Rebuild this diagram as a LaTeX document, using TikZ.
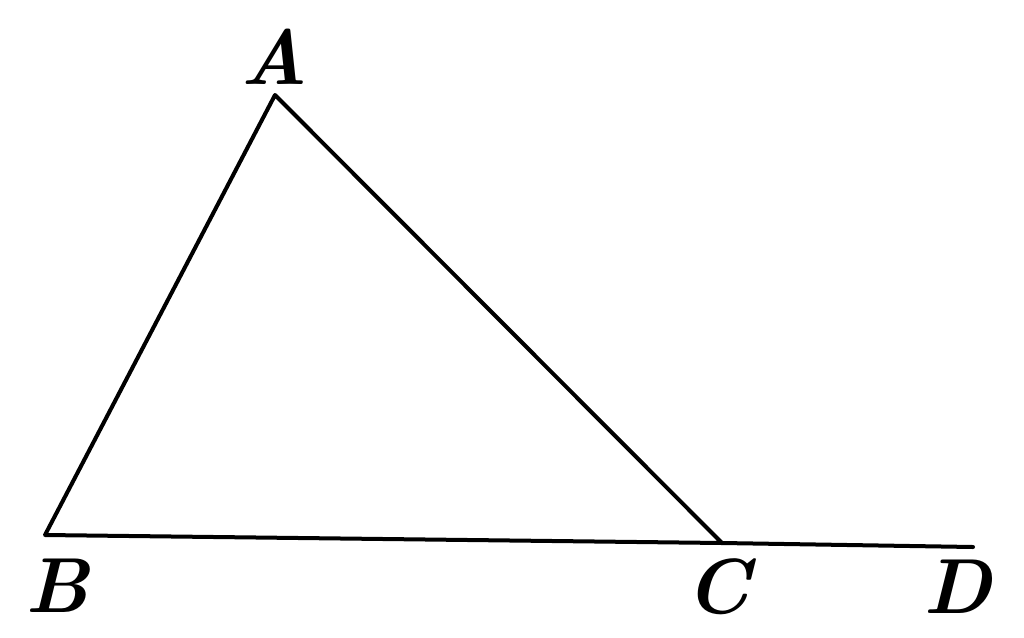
\documentclass[tikz,border=0pt]{standalone}
\begin{document}
\begin{tikzpicture}[x=1pt,y=-1pt,
  seg/.style={line width=4pt,line cap=round,line join=round},
  lab/.style={font=\fontsize{78}{82}\selectfont\bfseries\itshape,inner sep=0pt}]
\useasboundingbox (0,0) rectangle (1024,637);
\coordinate (A) at (275,95);
\coordinate (B) at (45,535);
\coordinate (C) at (722,543);
\coordinate (D) at (973,547);
\draw[seg] (C) -- (A) -- (B) -- (C) -- (D);
\node[lab] (lA) at (274,57) {A};
\node[lab] (lB) at (57,586) {B};
\node[lab] (lC) at (718,587) {C};
\node[lab] (lD) at (958,587) {D};
\end{tikzpicture}
\end{document}
